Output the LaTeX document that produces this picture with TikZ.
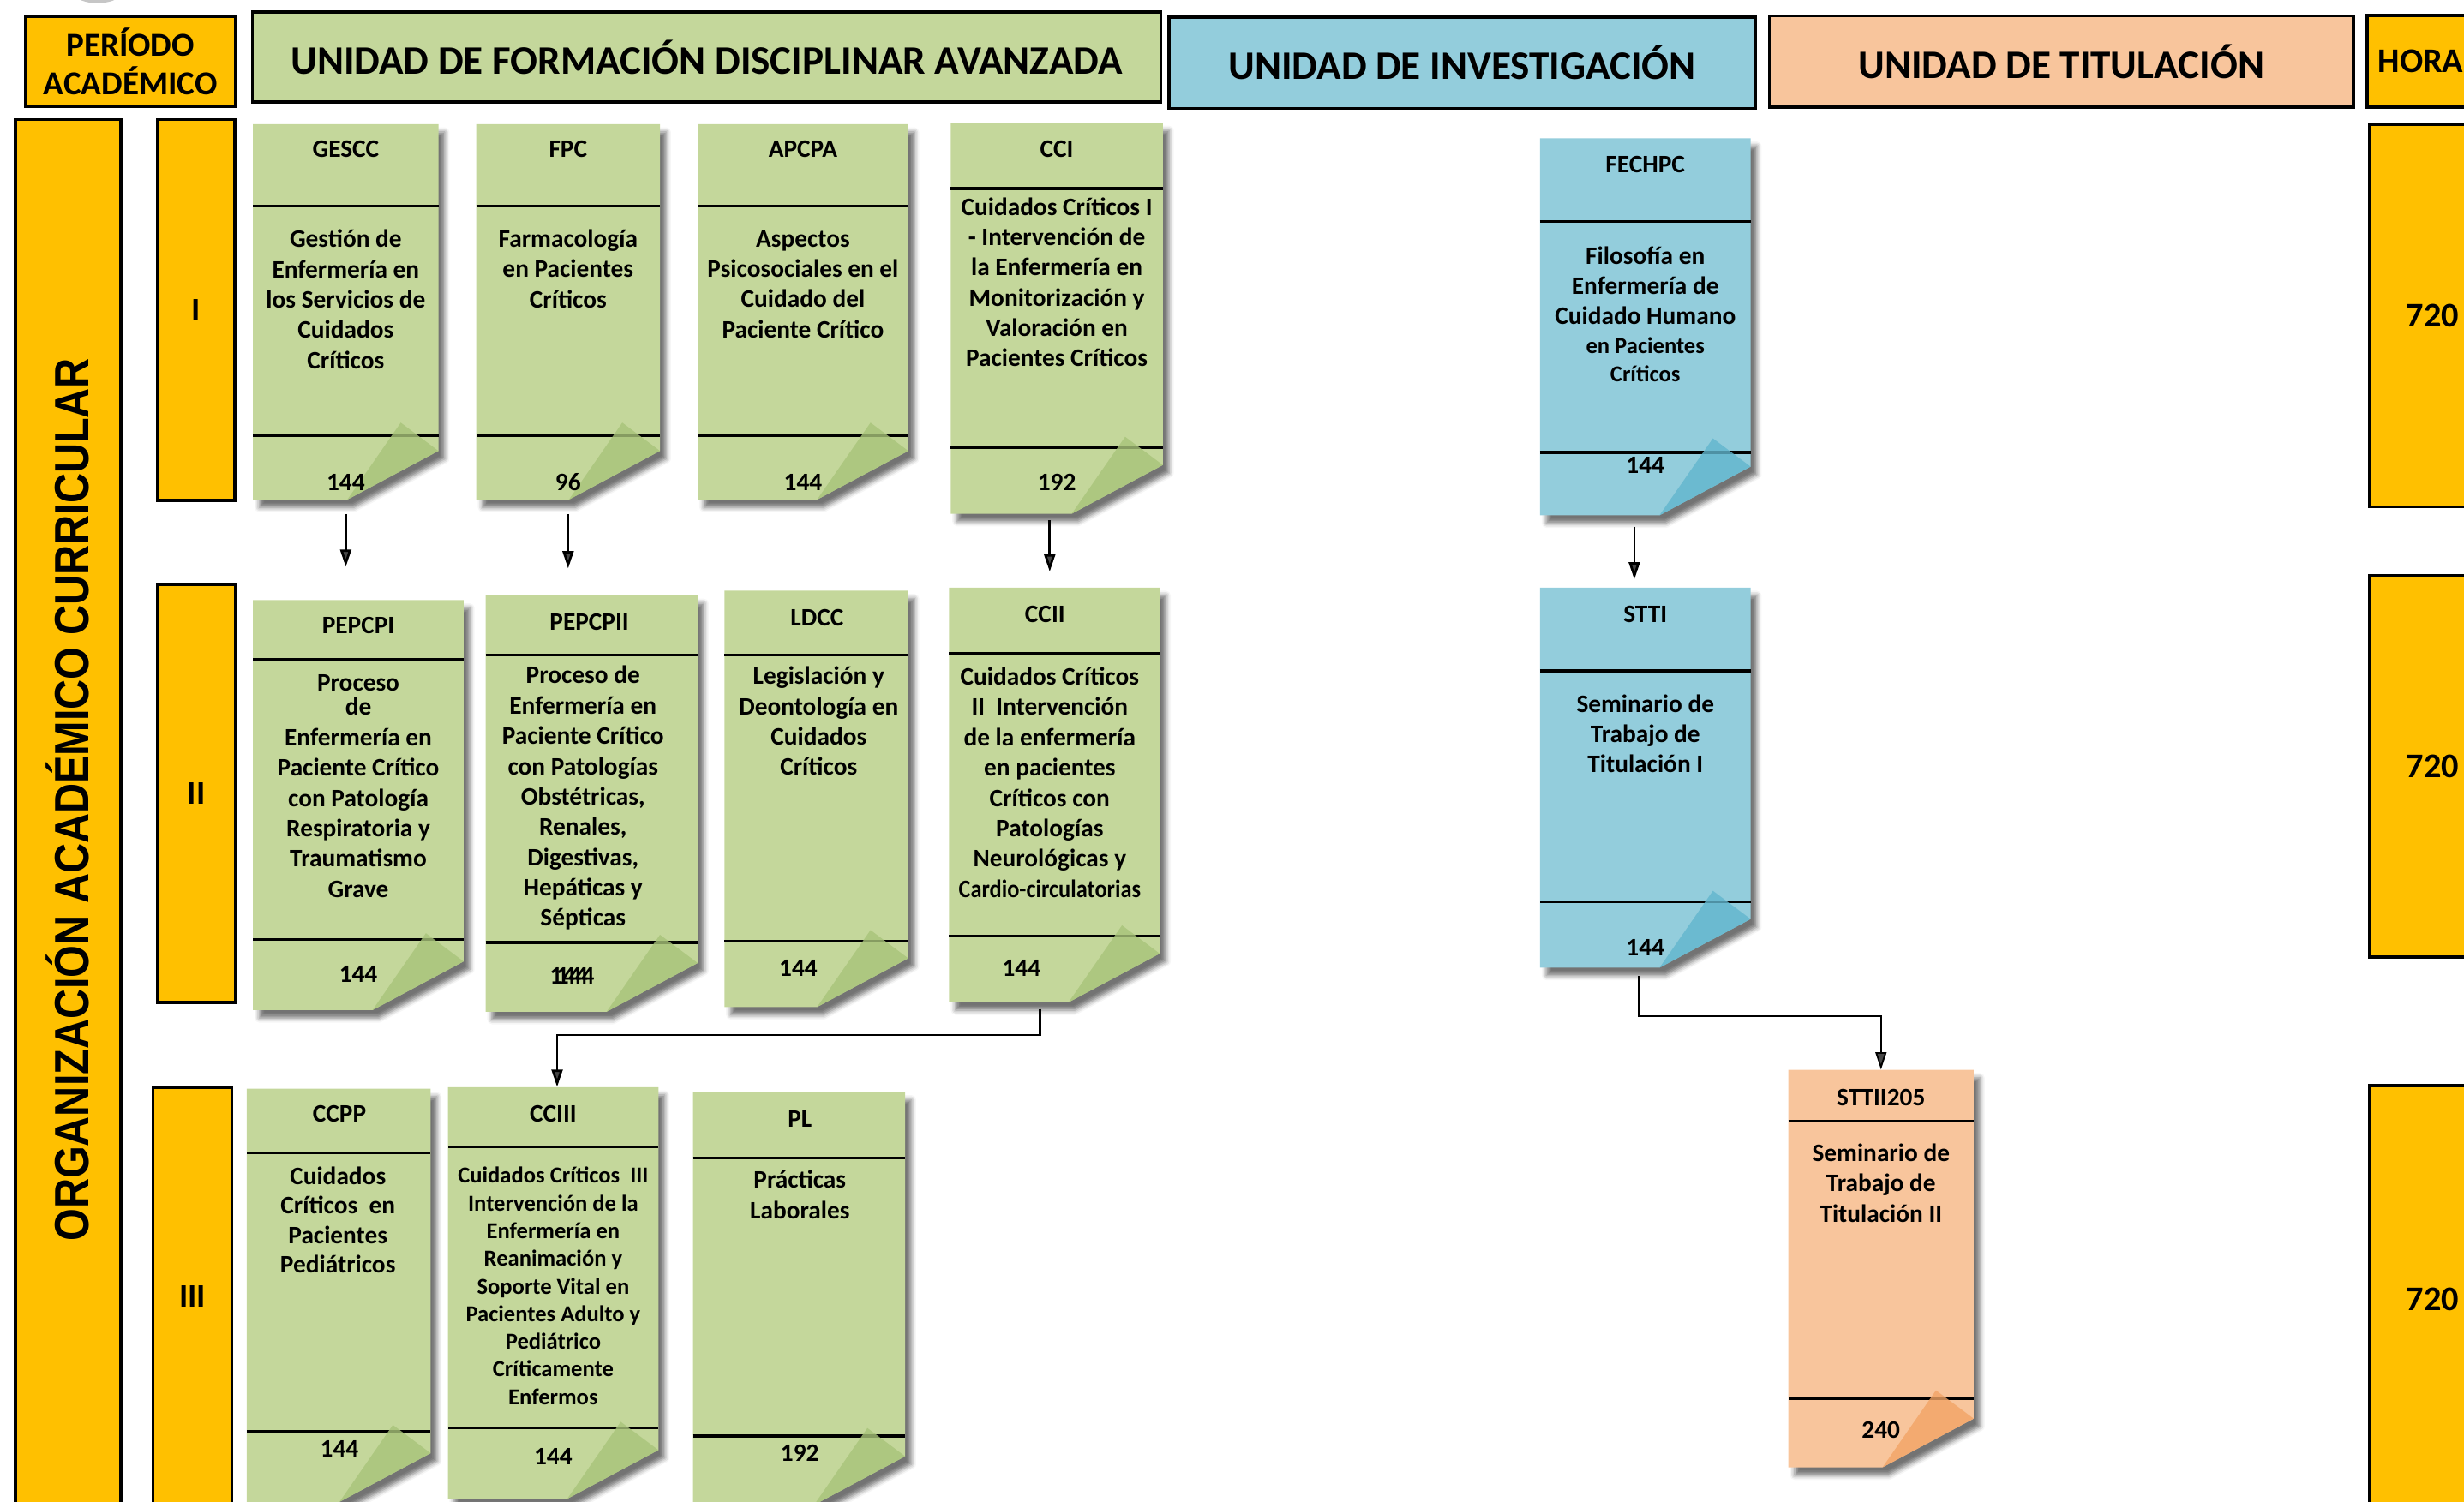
\documentclass[tikz,border=0pt]{standalone}
\usepackage{graphicx}
\usepackage{fontspec}
\setmainfont{Carlito}
\newfontfamily\anchafont{Liberation Sans}
\usepackage{tikz}
\usetikzlibrary{arrows.meta,shadows.blur,fit}

\definecolor{naranja}{HTML}{FFC000}
\definecolor{verdeN}{HTML}{C4D79B}
\definecolor{verdeD}{HTML}{A8C47A}
\definecolor{azulN}{HTML}{93CDDC}
\definecolor{azulD}{HTML}{62B6CD}
\definecolor{durN}{HTML}{F8C59C}
\definecolor{durD}{HTML}{F2A465}

\newcommand{\nota}[8]{%
  \path[fill=#8N, blur shadow={shadow xshift=4pt,shadow yshift=-5pt,shadow blur radius=3pt,shadow opacity=55}]
    (#2,#3) -- (#4,#3) -- ({#4},{#5-31}) -- ({#4-58},{#5}) -- (#2,#5) -- cycle;
  \draw[raya] (#2,#6) -- (#4,#6) (#2,#7) -- (#4,#7);
  \fill[#8D, fill opacity=0.8] ({#4-58},{#5}) -- ({#4-24},{#5-49}) -- ({#4},{#5-31}) -- cycle;
  \coordinate (#1-a) at (#2,#3);
  \coordinate (#1-b) at (#4,#5);
  \node[fit=(#1-a)(#1-b), inner sep=0pt] (#1) {};
}

\begin{document}
\begin{tikzpicture}[x=1pt, y=-1pt,
    cabecera/.style={draw=black, line width=2pt, inner sep=0pt, font=\bfseries\fontsize{25.7}{30}\selectfont},
    barra/.style={draw=black, line width=2pt, fill=naranja, inner sep=0pt, font=\bfseries\fontsize{21}{25}\selectfont},
    raya/.style={line width=1.8pt, black},
    cod/.style={inner sep=0pt, font=\bfseries\fontsize{16}{19}\selectfont},
    cuerpo/.style={inner sep=0pt, align=center, font=\bfseries\fontsize{16}{19.3}\selectfont},
    hrs/.style={inner sep=0pt, font=\bfseries\fontsize{16}{19}\selectfont},
    flecha/.style={-{Triangle[length=11pt,width=7pt]}, line width=1.5pt}]
   \useasboundingbox (0,0) rectangle (1568,956);
   \clip (0,0) rectangle (1568,956);
   \fill[gray!45] (62,-8) ellipse [x radius=18, y radius=10];

   \node[cabecera, fill=naranja, minimum width=134pt, minimum height=57.5pt, align=center, font=\bfseries\fontsize{21.3}{24.6}\selectfont] (periodo) at (83,39) {PERÍODO\\ACADÉMICO};
   \node[cabecera, fill=verdeN, minimum width=578pt, minimum height=57.5pt] (ufda) at (449.7,36.3) {UNIDAD DE FORMACIÓN DISCIPLINAR AVANZADA};
   \node[cabecera, fill=azulN, minimum width=373pt, minimum height=58pt] (uinv) at (930.5,40) {UNIDAD DE INVESTIGACIÓN};
   \node[cabecera, fill=durN, minimum width=371.6pt, minimum height=58pt] (utit) at (1311.8,39) {UNIDAD DE TITULACIÓN};
   \node[cabecera, fill=naranja, minimum width=75pt, minimum height=58.3pt] (horas) at (1544,38.9) {};
   \node[anchor=west, inner sep=0pt, font=\bfseries\fontsize{22}{26}\selectfont] (horas-t) at (1513,39) {HORA};

   \node[barra, minimum width=67.3pt, minimum height=890pt] (org) at (43.4,521) {};
   \node[rotate=90, anchor=base, inner sep=0pt, font=\anchafont\bfseries\fontsize{30.7}{36}\selectfont] (org-t) at (56.5,509) {\scalebox{0.863}[1]{ORGANIZACIÓN ACADÉMICO CURRICULAR}};

   \node[barra, minimum width=49.5pt, minimum height=242.6pt] (p1) at (124.8,197.3) {I};
   \node[barra, minimum width=50pt, minimum height=266pt] (p2) at (125,505) {II};
   \node[barra, minimum width=50.2pt, minimum height=266pt] (p3) at (122.5,825) {III};

   \begin{scope}[every node/.style={barra, minimum width=80pt, font=\bfseries\fontsize{22}{26}\selectfont}]
    \node[minimum height=243.5pt] (h1) at (1548,200.8) {720};
    \node[minimum height=242.7pt] (h2) at (1548,488) {720};
    \node[minimum height=272pt] (h3) at (1548,827) {720};
   \end{scope}

   \nota{gescc}{161}{79}{279}{318}{131}{277}{verde}
   \nota{fpc}{303}{79}{420}{318}{131}{277}{verde}
   \nota{apcpa}{444}{79}{578}{318}{131}{277}{verde}
   \nota{cci}{605}{78}{740}{327}{120}{285}{verde}
   \nota{pepcpi}{161}{382}{295}{643}{420}{598}{verde}
   \nota{pepcpii}{309}{379}{444}{644}{417}{600}{verde}
   \nota{ldcc}{461}{376}{578}{641}{417}{599}{verde}
   \nota{ccii}{604}{374}{738}{638}{416}{596}{verde}
   \nota{ccpp}{157}{693}{274}{956}{734}{911}{verde}
   \nota{cciii}{285}{692}{419}{954}{730}{909}{verde}
   \nota{pl}{441}{695}{576}{958}{737}{914}{verde}
   \nota{fechpc}{980}{88}{1114}{328}{141}{288}{azul}
   \nota{stti}{980}{374}{1114}{616}{427}{574}{azul}
   \nota{sttii}{1138}{681}{1256}{934}{713.5}{890}{dur}

   \node[cod] (gescc-c) at (220,95) {GESCC};
   \node[cuerpo] (gescc-t) at (220,190.5) {Gestión de\\Enfermería en\\los Servicios de\\Cuidados\\Críticos};
   \node[hrs] (gescc-h) at (220,307) {144};

   \node[cod] (fpc-c) at (361.5,95) {FPC};
   \node[cuerpo] (fpc-t) at (361.5,171) {Farmacología\\en Pacientes\\Críticos};
   \node[hrs] (fpc-h) at (361.5,307) {96};

   \node[cod] (apcpa-c) at (511,95) {APCPA};
   \node[cuerpo] (apcpa-t) at (511,181) {Aspectos\\Psicosociales en el\\Cuidado del\\Paciente Crítico};
   \node[hrs] (apcpa-h) at (511,307) {144};

   \node[cod] (cci-c) at (672.5,95) {CCI};
   \node[cuerpo] (cci-t) at (672.5,179.6) {Cuidados Críticos I\\- Intervención de\\la Enfermería en\\Monitorización y\\Valoración en\\Pacientes Críticos};
   \node[hrs] (cci-h) at (672.5,307) {192};

   \node[cod] (pepcpi-c) at (228,398) {PEPCPI};
   \node[cuerpo] (pepcpi-t) at (228,500.5) {Proceso\\[-4pt]de\\Enfermería en\\Paciente Crítico\\con Patología\\Respiratoria y\\Traumatismo\\Grave};
   \node[hrs] (pepcpi-h) at (228,620) {144};

   \node[cod] (pepcpii-c) at (375,396) {PEPCPII};
   \node[cuerpo] (pepcpii-t) at (371,508) {Proceso de\\Enfermería en\\Paciente Crítico\\con Patologías\\Obstétricas,\\Renales,\\Digestivas,\\Hepáticas y\\Sépticas};
   \node[hrs] (pepcpii-h) at (362,621) {144};
   \node[hrs] (pepcpii-h2) at (366,621) {144};

   \node[cod] (ldcc-c) at (520,393) {LDCC};
   \node[cuerpo] (ldcc-t) at (521,459) {Legislación y\\Deontología en\\Cuidados\\Críticos};
   \node[hrs] (ldcc-h) at (508,616) {144};

   \node[cod] (ccii-c) at (665,391) {CCII};
   \node[cuerpo] (ccii-t) at (668,498) {Cuidados Críticos\\II~~Intervención\\de la enfermería\\en pacientes\\Críticos con\\Patologías\\Neurológicas y\\\scalebox{0.9}[1]{Cardio-circulatorias}};
   \node[hrs] (ccii-h) at (650,616) {144};

   \node[cod] (ccpp-c) at (216,709) {CCPP};
   \node[cuerpo, font=\bfseries\fontsize{16}{18.6}\selectfont] (ccpp-t) at (215,776.5) {Cuidados\\Críticos~~en\\Pacientes\\Pediátricos};
   \node[hrs] (ccpp-h) at (216,922) {144};

   \node[cod] (cciii-c) at (352,709) {CCIII};
   \node[cuerpo, font=\bfseries\fontsize{14.5}{17.6}\selectfont] (cciii-t) at (352,818.5) {Cuidados Críticos~~III\\Intervención de la\\Enfermería en\\Reanimación y\\Soporte Vital en\\Pacientes Adulto y\\Pediátrico\\Críticamente\\Enfermos};
   \node[hrs] (cciii-h) at (352,927) {144};

   \node[cod] (pl-c) at (509,712) {PL};
   \node[cuerpo] (pl-t) at (509,760.4) {Prácticas\\Laborales};
   \node[hrs] (pl-h) at (509,925) {192};

   \node[cod] (fechpc-c) at (1047,104.6) {FECHPC};
   \node[cuerpo] (fechpc-t) at (1047,181.8) {Filosofía en\\Enfermería de\\Cuidado Humano};
   \node[cuerpo, font=\bfseries\fontsize{14.5}{18}\selectfont] (fechpc-t2) at (1047,229) {en Pacientes\\Críticos};
   \node[hrs] (fechpc-h) at (1047,296) {144};

   \node[cod] (stti-c) at (1047,391) {STTI};
   \node[cuerpo] (stti-t) at (1047,467) {Seminario de\\Trabajo de\\Titulación I};
   \node[hrs] (stti-h) at (1047,603.3) {144};

   \node[cod] (sttii-c) at (1197,698.4) {STTII205};
   \node[cuerpo] (sttii-t) at (1197,753) {Seminario de\\Trabajo de\\Titulación II};
   \node[hrs] (sttii-h) at (1197,910.3) {240};

   \draw[flecha, shorten <=9pt, shorten >=21pt] (gescc.south) -- (gescc.south |- pepcpi.north);
   \draw[flecha, shorten <=9pt, shorten >=17pt] (fpc.south) -- (fpc.south |- pepcpii.north);
   \draw[flecha, shorten <=4pt, shorten >=10pt] ([xshift=-4.5pt]cci.south) -- ([xshift=-4.5pt]cci.south |- ccii.north);
   \draw[flecha, shorten <=7pt, shorten >=5pt] ([xshift=-7pt]fechpc.south) -- ([xshift=-7pt]fechpc.south |- stti.north);
   \draw[flecha] ([xshift=-9pt,yshift=-4pt]ccii.south) |- ([xshift=2.5pt,yshift=33pt]cciii.north) -- ([xshift=2.5pt]cciii.north);
   \draw[flecha, line width=1pt] ([xshift=-4pt,yshift=-5pt]stti.south) |- ([yshift=34pt]sttii.north) -- (sttii.north);
\end{tikzpicture}
\end{document}
